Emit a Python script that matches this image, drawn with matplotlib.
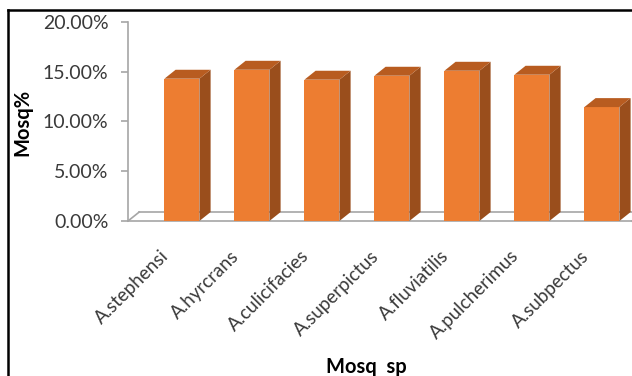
import matplotlib.pyplot as plt
import numpy as np
from matplotlib.patches import Polygon
from matplotlib.lines import Line2D
from matplotlib.ticker import FuncFormatter
from matplotlib.transforms import ScaledTranslation

species = ["A.stephensi", "A.hyrcrans", "A.culicifacies", "A.superpictus",
           "A.fluviatilis", "A.pulcherimus", "A.subpectus"]
mosq_pct = [14.3, 15.2, 14.2, 14.6, 15.1, 14.7, 11.45]
y_ticks = [0, 5, 10, 15, 20]

front_col = "#ED7D31"
top_col = "#B85C20"
side_col = "#9A4E1C"
grid_col = "#A6A6A6"
text_col = "#3A3A3A"

plt.rcParams["font.family"] = ["Lato", "DejaVu Sans"]

fig = plt.figure(figsize=(6.32, 3.76), dpi=100)
ax = fig.add_axes([128 / 632, 1 - 221 / 376, (632 - 128) / 632, (221 - 22) / 376])

x = np.arange(len(species))
width = 0.5
dx = 0.16   # depth offset in category units
dy = 0.9    # depth offset in percent units

left = -0.77
right = len(species) - 1 + 0.43
ax.set_xlim(left, left + 504 / 70)
ax.set_ylim(0, 20)

# floor
ax.plot([left, right], [0, 0], color=grid_col, lw=1.2, zorder=1, clip_on=False)
ax.plot([left + dx, right + dx], [dy, dy], color=grid_col, lw=1.2, zorder=1, clip_on=False)
ax.plot([left, left + dx], [0, dy], color=grid_col, lw=1.2, zorder=1, clip_on=False)
ax.plot([right, right + dx], [0, dy], color=grid_col, lw=1.2, zorder=1, clip_on=False)

ax.bar(x, mosq_pct, width=width, color=front_col, zorder=3)
for xi, v in zip(x, mosq_pct):
    x0 = xi - width / 2
    x1 = xi + width / 2
    side = Polygon([(x1, 0), (x1 + dx, dy), (x1 + dx, v + dy), (x1, v)],
                   closed=True, facecolor=side_col, edgecolor="none", zorder=3)
    top = Polygon([(x0, v), (x0 + dx, v + dy), (x1 + dx, v + dy), (x1, v)],
                  closed=True, facecolor=top_col, edgecolor="none", zorder=3)
    ax.add_patch(side)
    ax.add_patch(top)

for s in ["top", "right", "bottom"]:
    ax.spines[s].set_visible(False)
ax.spines["left"].set_color(grid_col)
ax.spines["left"].set_linewidth(1.2)

ax.set_yticks(y_ticks)
ax.yaxis.set_major_formatter(FuncFormatter(lambda v, p: f"{v:.2f}%"))
ax.tick_params(axis="y", colors=grid_col, length=5, width=1.2, pad=9,
               labelsize=14, labelcolor=text_col)
ax.set_xticks(x)
ax.set_xticklabels(species, rotation=45, ha="right", fontsize=13.5, color=text_col)
ax.tick_params(axis="x", length=0, pad=19)
for lbl in ax.get_xticklabels():
    lbl.set_transform(lbl.get_transform() + ScaledTranslation(-10 / 100, 0, fig.dpi_scale_trans))

fig.text(22 / 632, 1 - 122 / 376, "Mosq%", rotation=90, fontsize=14.5,
         fontweight="bold", ha="center", va="center")
fig.text(366 / 632, 1 - 367 / 376, "Mosq  sp", fontsize=14.5,
         fontweight="bold", ha="center", va="center")

# chart border (left and top)
fig.add_artist(Line2D([8 / 632, 8 / 632], [0, 1 - 10 / 376], color="black",
                      lw=1.8, transform=fig.transFigure))
fig.add_artist(Line2D([8 / 632, 1], [1 - 10 / 376, 1 - 10 / 376], color="black",
                      lw=1.8, transform=fig.transFigure))

fig.savefig("out.png", dpi=100)
